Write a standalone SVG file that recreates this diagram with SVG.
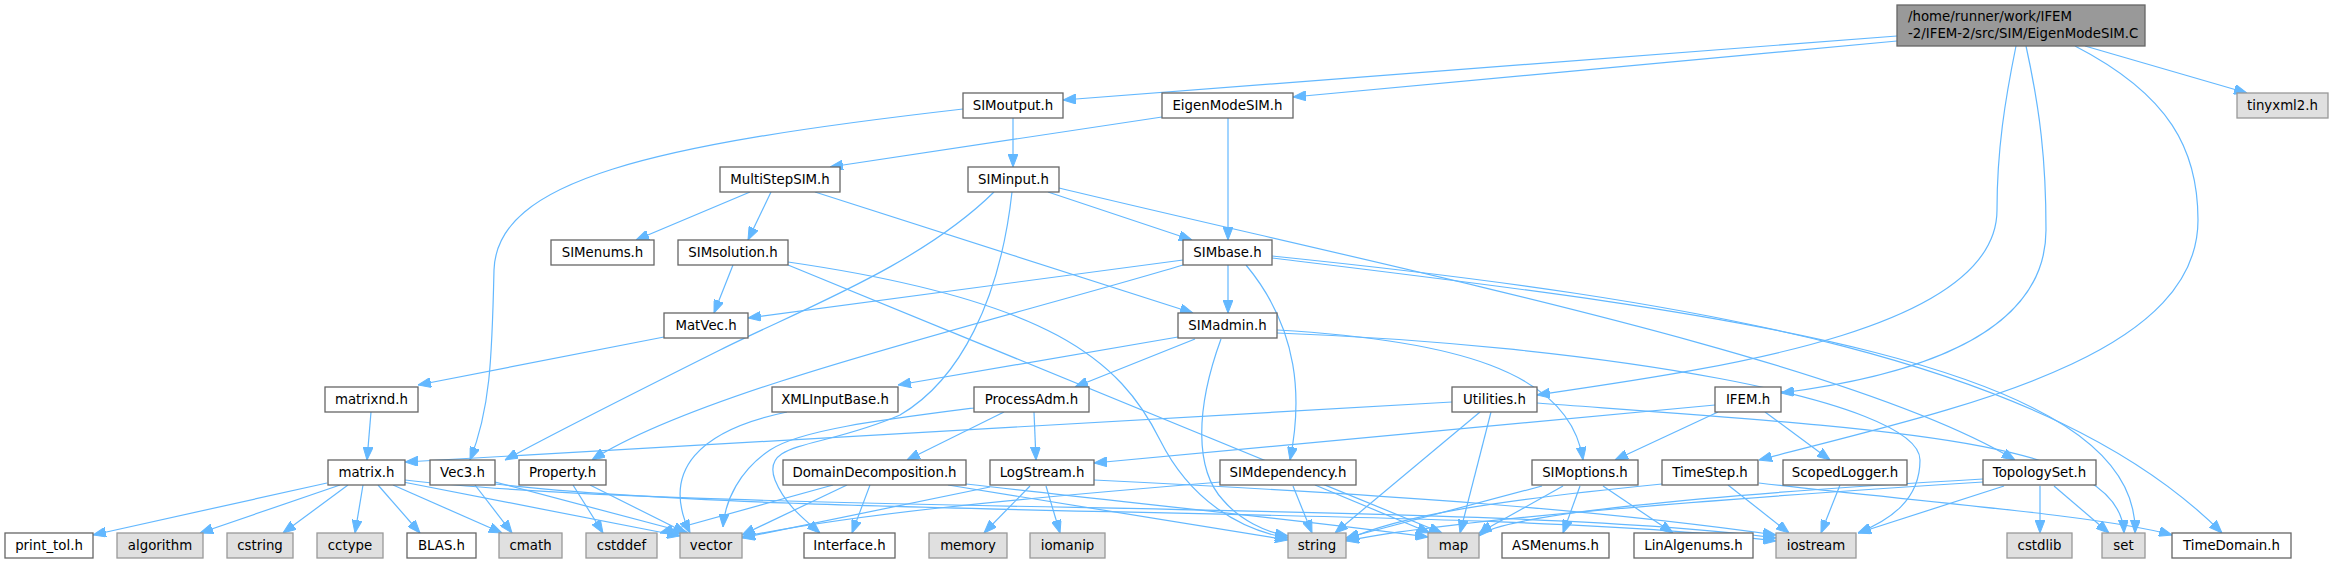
<svg xmlns="http://www.w3.org/2000/svg" width="2334" height="564" viewBox="0 0 2334 564">
<defs>
<marker id="ah" markerUnits="userSpaceOnUse" markerWidth="13" markerHeight="10" refX="13" refY="5" orient="auto"><path d="M0,0 L13,5 L0,10 z" fill="#63b8ff" stroke="#63b8ff" stroke-width="1"/></marker>
<style>
.n rect{fill:#fff;stroke:#666666;stroke-width:1.3}
.g rect{fill:#e0e0e0;stroke:#999999;stroke-width:1.3}
.m rect{fill:#999999;stroke:#666666;stroke-width:1.3}
text{font-family:"DejaVu Sans",sans-serif;font-size:13.33px;fill:#000;text-anchor:middle}
.e path{fill:none;stroke:#63b8ff;stroke-width:1.2;marker-end:url(#ah)}
</style>
</defs>
<rect width="2334" height="564" fill="#fff"/>
<g class="e" id="edges">
<path d="M1897,36 L1063,100"/>
<path d="M1897,41 L1293,97"/>
<path d="M2085,46 L2247,93"/>
<path d="M2016,46 C2005,100 1997,150 1997,210 C1997,330 1720,368 1537,395"/>
<path d="M2026,46 C2040,110 2046,160 2046,230 C2046,340 1900,378 1781,393"/>
<path d="M2075,46 C2170,95 2198,150 2198,220 C2198,360 1950,410 1759,460"/>
<path d="M1162,117 L830,167"/>
<path d="M1228,118 L1228,240"/>
<path d="M1013,118 L1013,167"/>
<path d="M963,109 C650,145 497,180 494,270 C492,360 490,410 470,460"/>
<path d="M750,192 L636,240"/>
<path d="M771,192 L748,240"/>
<path d="M815,192 L1193,313"/>
<path d="M1048,192 L1192,240"/>
<path d="M994,192 C920,265 800,310 720,350 C640,390 560,430 505,460"/>
<path d="M1012,192 C1000,300 960,380 900,415 C820,450 760,440 775,480 C785,505 805,520 820,533"/>
<path d="M1059,188 C1400,270 1850,360 2015,460"/>
<path d="M733,265 L714,313"/>
<path d="M788,262 C1050,300 1120,360 1160,440 C1190,500 1240,530 1288,538"/>
<path d="M788,265 L1442,533"/>
<path d="M1228,265 L1228,313"/>
<path d="M1246,265 C1300,330 1302,400 1290,460"/>
<path d="M1183,260 L748,318"/>
<path d="M1183,265 C1000,320 700,390 592,460"/>
<path d="M1272,256 C1700,300 2050,360 2222,533"/>
<path d="M1272,258 C1700,310 2140,360 2135,533"/>
<path d="M1178,337 L898,385"/>
<path d="M1195,339 L1075,387"/>
<path d="M1221,339 C1195,410 1195,470 1223,500 C1240,520 1265,532 1288,536"/>
<path d="M1277,330 C1450,340 1570,370 1583,460"/>
<path d="M1277,333 C1600,345 1920,400 1920,460 C1920,500 1890,520 1858,533"/>
<path d="M664,337 L418,385"/>
<path d="M371,412 L367,460"/>
<path d="M787,412 C700,430 660,470 690,533"/>
<path d="M1004,412 L907,460"/>
<path d="M1034,412 L1036,460"/>
<path d="M974,408 C880,420 800,430 770,450 C740,470 725,500 723,527"/>
<path d="M1452,402 L405,462"/>
<path d="M1480,412 L1335,533"/>
<path d="M1491,412 L1460,533"/>
<path d="M1537,403 C1900,430 2120,440 2124,533"/>
<path d="M1715,405 L1094,463"/>
<path d="M1718,412 L1615,460"/>
<path d="M1765,412 L1830,460"/>
<path d="M327,483 L93,535"/>
<path d="M340,485 L200,533"/>
<path d="M348,485 L283,533"/>
<path d="M363,485 L355,533"/>
<path d="M378,485 L420,533"/>
<path d="M393,485 L502,533"/>
<path d="M403,482 L680,536"/>
<path d="M405,480 C700,515 1500,500 1776,538"/>
<path d="M475,485 L512,533"/>
<path d="M495,482 L688,533"/>
<path d="M495,484 C800,520 1500,505 1776,541"/>
<path d="M573,485 L603,533"/>
<path d="M590,485 L686,533"/>
<path d="M870,485 L852,533"/>
<path d="M847,485 L742,535"/>
<path d="M833,485 L660,533"/>
<path d="M948,485 C1100,510 1200,525 1288,540"/>
<path d="M966,484 C1150,505 1300,520 1428,537"/>
<path d="M1030,486 L984,533"/>
<path d="M1046,486 L1060,533"/>
<path d="M990,487 L742,538"/>
<path d="M1094,480 C1400,495 1600,510 1776,535"/>
<path d="M1293,486 L1312,533"/>
<path d="M1315,485 L1430,533"/>
<path d="M1221,482 C1000,500 850,515 742,537"/>
<path d="M1542,486 L1346,538"/>
<path d="M1563,486 L1479,533"/>
<path d="M1580,486 L1563,533"/>
<path d="M1603,486 L1673,533"/>
<path d="M1728,485 L1789,533"/>
<path d="M1759,483 C1900,500 2100,515 2172,535"/>
<path d="M1662,484 C1500,500 1400,515 1346,540"/>
<path d="M1840,485 L1821,533"/>
<path d="M2004,486 L1858,533"/>
<path d="M2040,486 L2040,533"/>
<path d="M2054,486 L2109,533"/>
<path d="M1983,479 C1700,495 1500,515 1479,536"/>
<path d="M1983,482 C1700,500 1450,520 1346,541"/>
</g>
<g id="n_main" class="m"><rect x="1897" y="5" width="248" height="41"/><text x="1908" y="21" style="text-anchor:start">/home/runner/work/IFEM</text><text x="1908" y="38" style="text-anchor:start">-2/IFEM-2/src/SIM/EigenModeSIM.C</text></g>
<g id="n_SIMoutput" class="n"><rect x="963" y="93" width="100" height="25"/><text x="1013" y="110">SIMoutput.h</text></g>
<g id="n_EigenModeSIM" class="n"><rect x="1162" y="93" width="131" height="25"/><text x="1227.5" y="110">EigenModeSIM.h</text></g>
<g id="n_tinyxml2" class="g"><rect x="2237" y="93" width="91" height="25"/><text x="2282.5" y="110">tinyxml2.h</text></g>
<g id="n_MultiStepSIM" class="n"><rect x="720" y="167" width="120" height="25"/><text x="780" y="184">MultiStepSIM.h</text></g>
<g id="n_SIMinput" class="n"><rect x="968" y="167" width="91" height="25"/><text x="1013.5" y="184">SIMinput.h</text></g>
<g id="n_SIMenums" class="n"><rect x="551" y="240" width="103" height="25"/><text x="602.5" y="257">SIMenums.h</text></g>
<g id="n_SIMsolution" class="n"><rect x="678" y="240" width="110" height="25"/><text x="733" y="257">SIMsolution.h</text></g>
<g id="n_SIMbase" class="n"><rect x="1183" y="240" width="89" height="25"/><text x="1227.5" y="257">SIMbase.h</text></g>
<g id="n_MatVec" class="n"><rect x="664" y="313" width="84" height="25"/><text x="706" y="330">MatVec.h</text></g>
<g id="n_SIMadmin" class="n"><rect x="1178" y="313" width="99" height="25"/><text x="1227.5" y="330">SIMadmin.h</text></g>
<g id="n_matrixnd" class="n"><rect x="325" y="387" width="93" height="25"/><text x="371.5" y="404">matrixnd.h</text></g>
<g id="n_XMLInputBase" class="n"><rect x="772" y="387" width="126" height="25"/><text x="835" y="404">XMLInputBase.h</text></g>
<g id="n_ProcessAdm" class="n"><rect x="974" y="387" width="115" height="25"/><text x="1031.5" y="404">ProcessAdm.h</text></g>
<g id="n_Utilities" class="n"><rect x="1452" y="387" width="85" height="25"/><text x="1494.5" y="404">Utilities.h</text></g>
<g id="n_IFEM" class="n"><rect x="1715" y="387" width="66" height="25"/><text x="1748" y="404">IFEM.h</text></g>
<g id="n_matrix" class="n"><rect x="328" y="460" width="77" height="25"/><text x="366.5" y="477">matrix.h</text></g>
<g id="n_Vec3" class="n"><rect x="430" y="460" width="65" height="25"/><text x="462.5" y="477">Vec3.h</text></g>
<g id="n_Property" class="n"><rect x="519" y="460" width="87" height="25"/><text x="562.5" y="477">Property.h</text></g>
<g id="n_DomainDecomposition" class="n"><rect x="783" y="460" width="183" height="25"/><text x="874.5" y="477">DomainDecomposition.h</text></g>
<g id="n_LogStream" class="n"><rect x="990" y="460" width="104" height="25"/><text x="1042" y="477">LogStream.h</text></g>
<g id="n_SIMdependency" class="n"><rect x="1220" y="460" width="136" height="25"/><text x="1288" y="477">SIMdependency.h</text></g>
<g id="n_SIMoptions" class="n"><rect x="1532" y="460" width="106" height="25"/><text x="1585" y="477">SIMoptions.h</text></g>
<g id="n_TimeStep" class="n"><rect x="1662" y="460" width="96" height="25"/><text x="1710" y="477">TimeStep.h</text></g>
<g id="n_ScopedLogger" class="n"><rect x="1783" y="460" width="124" height="25"/><text x="1845" y="477">ScopedLogger.h</text></g>
<g id="n_TopologySet" class="n"><rect x="1983" y="460" width="113" height="25"/><text x="2039.5" y="477">TopologySet.h</text></g>
<g id="n_print_tol" class="n"><rect x="5" y="533" width="88" height="25"/><text x="49" y="550">print_tol.h</text></g>
<g id="n_algorithm" class="g"><rect x="117" y="533" width="86" height="25"/><text x="160" y="550">algorithm</text></g>
<g id="n_cstring" class="g"><rect x="227" y="533" width="66" height="25"/><text x="260" y="550">cstring</text></g>
<g id="n_cctype" class="g"><rect x="317" y="533" width="66" height="25"/><text x="350" y="550">cctype</text></g>
<g id="n_BLAS" class="n"><rect x="407" y="533" width="69" height="25"/><text x="441.5" y="550">BLAS.h</text></g>
<g id="n_cmath" class="g"><rect x="499" y="533" width="63" height="25"/><text x="530.5" y="550">cmath</text></g>
<g id="n_cstddef" class="g"><rect x="586" y="533" width="71" height="25"/><text x="621.5" y="550">cstddef</text></g>
<g id="n_vector" class="g"><rect x="680" y="533" width="62" height="25"/><text x="711" y="550">vector</text></g>
<g id="n_Interface" class="n"><rect x="804" y="533" width="91" height="25"/><text x="849.5" y="550">Interface.h</text></g>
<g id="n_memory" class="g"><rect x="929" y="533" width="78" height="25"/><text x="968" y="550">memory</text></g>
<g id="n_iomanip" class="g"><rect x="1030" y="533" width="75" height="25"/><text x="1067.5" y="550">iomanip</text></g>
<g id="n_string" class="g"><rect x="1288" y="533" width="58" height="25"/><text x="1317" y="550">string</text></g>
<g id="n_map" class="g"><rect x="1428" y="533" width="51" height="25"/><text x="1453.5" y="550">map</text></g>
<g id="n_ASMenums" class="n"><rect x="1502" y="533" width="107" height="25"/><text x="1555.5" y="550">ASMenums.h</text></g>
<g id="n_LinAlgenums" class="n"><rect x="1634" y="533" width="119" height="25"/><text x="1693.5" y="550">LinAlgenums.h</text></g>
<g id="n_iostream" class="g"><rect x="1776" y="533" width="80" height="25"/><text x="1816" y="550">iostream</text></g>
<g id="n_cstdlib" class="g"><rect x="2007" y="533" width="65" height="25"/><text x="2039.5" y="550">cstdlib</text></g>
<g id="n_set" class="g"><rect x="2102" y="533" width="43" height="25"/><text x="2123.5" y="550">set</text></g>
<g id="n_TimeDomain" class="n"><rect x="2172" y="533" width="119" height="25"/><text x="2231.5" y="550">TimeDomain.h</text></g>
</svg>
